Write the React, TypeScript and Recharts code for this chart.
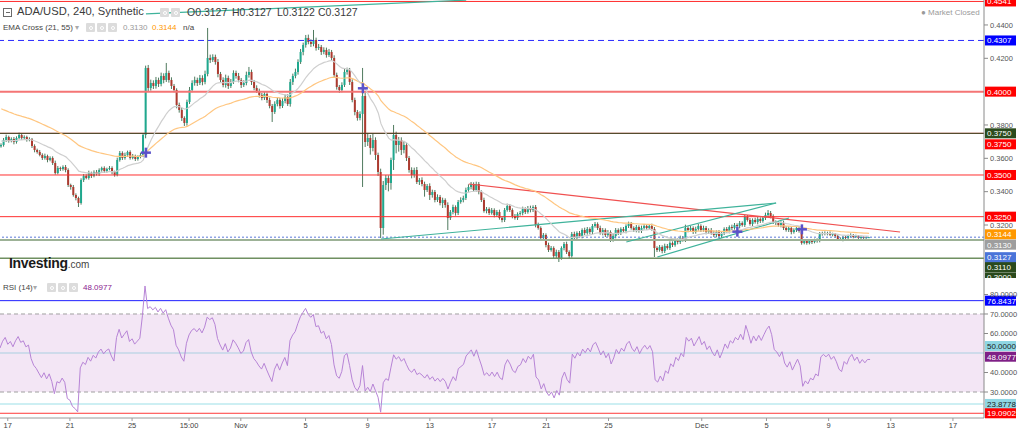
import React from 'react';
import { ComposedChart, Bar, Line, XAxis, YAxis, ReferenceLine, ReferenceArea } from 'recharts';

// 4h candle closes, in units of 0.0001 USD
const closes = [
  3680,3710,3728,3704,3716,3698,3722,3740,3722,3728,
  3710,3716,3674,3650,3638,3620,3602,3614,3590,3602,
  3572,3512,3542,3536,3548,3530,3440,3428,3380,3362,
  3332,3470,3494,3482,3512,3494,3518,3506,3530,3542,
  3524,3536,3542,3518,3500,3590,3632,3602,3620,3638,
  3602,3614,3596,3608,3620,3740,4142,4022,4052,4034,
  4070,4046,4094,4070,4112,4070,4034,4010,3920,3890,
  3842,3812,3938,4010,4052,4070,4052,4082,4058,4106,
  4202,4190,4208,4178,4106,4070,4040,4082,4034,4058,
  4112,4094,4070,4040,4052,4100,4118,4058,4022,4004,
  3980,3962,3986,3950,3914,3878,3926,3950,3914,3944,
  3968,3926,4058,4094,4118,4178,4238,4280,4322,4298,
  4286,4310,4262,4268,4238,4250,4220,4238,4202,4100,
  4028,4010,4040,4118,4130,4058,3950,3878,3842,3866,
  3974,3698,3722,3662,3710,3620,3518,3182,3440,3482,
  3452,3590,3740,3680,3710,3650,3680,3602,3530,3500,
  3530,3458,3470,3446,3410,3434,3380,3398,3350,3368,
  3332,3350,3320,3242,3278,3308,3272,3338,3350,3362,
  3410,3428,3446,3410,3446,3398,3350,3284,3296,3272,
  3290,3260,3278,3242,3230,3290,3314,3290,3254,3242,
  3266,3272,3296,3278,3302,3290,3308,3200,3182,3122,
  3140,3080,3050,3062,3014,3038,3002,3062,3086,3038,
  3014,3146,3122,3152,3134,3170,3152,3176,3158,3194,
  3206,3182,3152,3170,3140,3158,3110,3134,3170,3152,
  3176,3164,3194,3206,3182,3170,3188,3164,3182,3194,
  3182,3194,3176,3062,3050,3068,3044,3074,3062,3092,
  3080,3110,3098,3122,3110,3182,3170,3182,3158,3176,
  3194,3170,3182,3158,3170,3152,3140,3158,3134,3152,
  3176,3164,3188,3182,3200,3194,3212,3200,3248,3230,
  3206,3230,3218,3236,3224,3242,3260,3272,3254,3218,
  3212,3200,3212,3182,3170,3182,3158,3170,3182,3164,
  3092,3104,3092,3104,3098,3110,3104,3146,3152,3146,
  3152,3140,3146,3134,3116,3110,3128,3122,3134,3140,
  3128,3134,3122,3128,3122,3127,3127,
];
const firstOpen = 3672;

// upper / lower wick lengths, in units of 0.0001 USD
const upperWicks = [
  10,12,14,8,10,12,10,14,8,10,
  8,10,6,10,8,12,10,14,8,10,
  10,14,12,8,10,12,10,8,12,10,
  8,10,12,10,14,8,10,12,10,8,
  10,8,12,10,8,14,12,10,14,8,
  10,12,8,10,14,10,14,18,20,16,
  18,14,20,16,60,14,16,12,10,14,
  12,10,14,18,16,20,14,18,16,20,
  180,20,16,14,18,12,16,20,14,18,
  16,14,18,12,16,20,30,14,12,16,
  14,12,16,10,14,12,16,14,12,16,
  12,16,18,14,20,16,18,14,18,20,
  16,60,14,18,12,16,14,18,12,16,
  14,12,16,18,14,12,16,14,12,16,
  168,20,30,18,40,16,14,20,24,18,
  16,14,60,20,18,16,24,14,12,16,
  14,18,12,16,14,12,16,14,12,16,
  12,14,10,16,12,14,10,12,16,14,
  14,16,12,10,14,12,10,14,12,10,
  12,10,12,14,10,12,14,12,10,12,
  10,12,14,10,12,14,10,12,14,10,
  12,10,14,12,10,14,12,10,12,14,
  10,12,14,10,12,10,14,12,10,12,
  12,10,14,12,10,12,10,14,12,10,
  10,12,10,14,12,10,12,10,14,12,
  12,10,14,12,10,12,10,14,12,10,
  10,12,10,14,12,20,10,12,10,14,
  12,10,14,12,10,12,14,10,12,10,
  10,12,10,14,12,10,12,10,14,12,
  12,10,14,12,10,12,14,18,12,10,
  10,12,10,14,12,10,12,10,14,12,
  12,8,10,8,10,8,10,12,8,10,
  8,10,8,6,8,10,8,6,8,10,
  6,8,6,8,6,5,0,
];
const lowerWicks = [
  8,10,12,10,8,14,10,8,12,10,
  10,8,12,14,10,8,12,10,14,8,
  12,10,8,12,10,14,12,16,10,14,
  24,10,12,8,10,12,8,10,12,10,
  12,10,8,14,10,8,10,12,10,12,
  10,8,12,10,8,12,20,24,16,18,
  16,18,14,20,12,16,18,14,20,16,
  18,18,16,12,14,16,18,12,20,14,
  14,18,12,16,20,18,14,16,18,12,
  12,16,14,18,12,14,16,18,14,12,
  16,14,12,18,14,60,12,14,16,12,
  14,12,16,18,14,16,12,20,16,14,
  18,14,16,12,18,14,16,12,14,18,
  16,18,14,12,16,18,14,20,16,14,
  438,30,24,40,20,30,24,60,40,30,
  50,40,60,50,40,30,20,18,16,20,
  16,12,18,14,40,12,30,16,14,12,
  14,30,16,72,12,14,16,12,10,14,
  12,10,14,12,10,14,12,10,14,12,
  10,14,12,10,14,12,10,12,14,10,
  12,10,14,12,10,14,12,14,10,12,
  10,14,12,10,14,12,24,10,14,12,
  12,10,14,12,10,14,12,10,14,12,
  10,12,10,14,12,10,12,10,14,12,
  12,10,14,12,10,12,14,10,12,10,
  10,12,10,54,12,10,14,12,10,12,
  12,10,14,12,10,12,14,10,12,10,
  10,12,10,14,12,10,12,14,10,12,
  12,10,14,12,10,12,14,10,12,10,
  10,12,10,14,12,10,12,10,14,12,
  12,10,14,12,10,12,14,10,12,10,
  10,8,10,8,12,8,10,8,10,8,
  8,6,8,10,8,6,8,10,6,8,
  8,6,8,6,8,5,5,
];

const slotCount = 381;
const ema21Seed = 0.3705;
const ema55Seed = 0.3905;
const rsiGainSeed = 0.0016;
const rsiLossSeed = 0.0015;

const crossIdx = [56, 140, 285, 310];
const crossPrice = [0.3634, 0.402, 0.316, 0.3174];

const tickIdx = [3, 27, 51, 73, 93, 118, 142, 166, 190, 211, 235, 271, 296, 320, 344, 368];
const tickLabels = ['17', '21', '25', '15:00', 'Nov', '5', '9', '13', '17', '21', '25', 'Dec', '5', '9', '13', '17'];

const priceDomain = [0.28821, 0.45497];
const priceTicks = [0.32, 0.34, 0.36, 0.38, 0.42, 0.44];
const rsiDomain = [16.67, 88.46];
const rsiTicks = [30, 40, 60, 70, 80];

const redLevels = [0.4541, 0.4, 0.375, 0.35, 0.325];
const greenLevels = [0.375, 0.311, 0.3];
const dashedLevel = 0.4307;
const lastPrice = 0.3127;
const ema21Last = 0.313;
const ema55Last = 0.3144;
const rsiLevels = [76.8437, 50, 48.0977, 23.8778, 19.0902];

const redTrend = [{ x: 181, y: 0.3446 }, { x: 348, y: 0.3158 }];
const tealTrends = [
  [{ x: 147, y: 0.3116 }, { x: 300, y: 0.3332 }],
  [{ x: 242, y: 0.3098 }, { x: 300, y: 0.3332 }],
  [{ x: 254, y: 0.3008 }, { x: 305, y: 0.3242 }],
  [{ x: 56, y: 0.4466 }, { x: 180, y: 0.4549 }],
];

type Row = {
  i: number;
  open?: number; high?: number; low?: number; close?: number;
  ema21?: number; ema55?: number; rsi?: number; cross?: number | null;
};

const data: Row[] = [];
{
  let prev = firstOpen / 1e4;
  let e21 = ema21Seed, e55 = ema55Seed, ag = rsiGainSeed, al = rsiLossSeed;
  for (let i = 0; i < slotCount; i++) {
    if (i < closes.length) {
      const c = closes[i] / 1e4;
      const o = prev;
      const hi = Math.max(o, c) + (upperWicks[i] ?? 0) / 1e4;
      const lo = Math.min(o, c) - (lowerWicks[i] ?? 0) / 1e4;
      e21 = e21 + (c - e21) * (2 / 22);
      e55 = e55 + (c - e55) * (2 / 56);
      const ch = c - o;
      ag = (ag * 13 + Math.max(ch, 0)) / 14;
      al = (al * 13 + Math.max(-ch, 0)) / 14;
      const rsi = al === 0 ? 100 : 100 - 100 / (1 + ag / al);
      const ci = crossIdx.indexOf(i);
      data.push({ i, open: o, high: hi, low: lo, close: c, ema21: e21, ema55: e55, rsi, cross: ci >= 0 ? crossPrice[ci] : null });
      prev = c;
    } else {
      data.push({ i, cross: null });
    }
  }
}

const AXIS_FONT = "'Liberation Sans', Arial, sans-serif";

function Candle(props: any) {
  const { x, y, width, height, payload } = props;
  if (!payload || payload.high == null || !isFinite(y) || !isFinite(height)) return <g />;
  const top = Math.min(y, y + height);
  const h = Math.abs(height);
  const range = payload.high - payload.low;
  const k = range > 0 ? h / range : 0;
  const yO = top + (payload.high - payload.open) * k;
  const yC = top + (payload.high - payload.close) * k;
  const up = payload.close >= payload.open;
  const cx = x + width / 2;
  const bTop = Math.min(yO, yC);
  const bH = Math.max(1, Math.abs(yO - yC));
  return (
    <g>
      <line x1={cx} x2={cx} y1={top} y2={top + h} stroke="#4f7a5e" strokeWidth={1} />
      <rect x={x} y={bTop} width={width} height={bH} fill={up ? '#1fa88e' : '#ad3a2f'} />
    </g>
  );
}

function CrossDot(props: any) {
  const { cx, cy, payload, index } = props;
  if (!payload || payload.cross == null || cy == null || !isFinite(cy)) return <g key={`cd${index}`} />;
  return (
    <g key={`cd${index}`}>
      <line x1={cx - 5} x2={cx + 5} y1={cy} y2={cy} stroke="#5b52c9" strokeWidth={2.5} />
      <line x1={cx} x2={cx} y1={cy - 5} y2={cy + 5} stroke="#5b52c9" strokeWidth={2.5} />
    </g>
  );
}

function Tag(props: any) {
  const { viewBox, text, bg, fg = '#fff', dy = 0 } = props;
  if (!viewBox) return null;
  const x = viewBox.x + viewBox.width + 1;
  const y = viewBox.y + dy;
  return (
    <g>
      <rect x={x} y={y - 5} width={31} height={10} fill={bg} />
      <text x={x + 2} y={y + 3} fontSize={8} fill={fg} fontFamily={AXIS_FONT}>{text}</text>
    </g>
  );
}

const iconBox = (left: number, top: number) => (
  <div style={{ position: 'absolute', left, top, width: 9, height: 9, background: '#dcdcdc', borderRadius: 1 }}>
    <div style={{ position: 'absolute', left: 2.5, top: 2.5, width: 4, height: 4, border: '1px solid #fff', borderRadius: 3, boxSizing: 'border-box' }} />
  </div>
);

const txt = (left: number, top: number, s: string, size: number, color: string, extra: React.CSSProperties = {}) => (
  <div style={{ position: 'absolute', left, top, fontSize: size, color, whiteSpace: 'nowrap', lineHeight: 1, fontFamily: AXIS_FONT, ...extra }}>{s}</div>
);

export default function App() {
  const xFmt = (v: any) => {
    const k = tickIdx.indexOf(Number(v));
    return k >= 0 ? tickLabels[k] : '';
  };
  return (
    <div style={{ position: 'absolute', left: 0, top: 0, width: 1024, height: 433, background: '#fff', overflow: 'hidden' }}>
      <div style={{ position: 'absolute', left: 0, top: 0 }}>
        <ComposedChart width={1024} height={278} data={data} margin={{ top: 0, right: 0, bottom: 0, left: 0 }}>
          <XAxis dataKey="i" hide />
          <YAxis
            orientation="right"
            width={40}
            domain={priceDomain}
            allowDataOverflow
            ticks={priceTicks}
            interval={0}
            tickFormatter={(v: number) => v.toFixed(4)}
            tick={{ fontSize: 7.5, fill: '#555', fontFamily: AXIS_FONT }}
            tickSize={4}
            axisLine={{ stroke: '#8a8a8a' }}
            tickLine={{ stroke: '#8a8a8a' }}
          />
          <ReferenceLine y={redLevels[0]} stroke="#ff2a2a" strokeWidth={1} label={<Tag text="0.4541" bg="#ff0000" />} />
          <ReferenceLine y={dashedLevel} stroke="#2b2bff" strokeDasharray="6 4" label={<Tag text="0.4307" bg="#0000ff" />} />
          <ReferenceLine y={redLevels[1]} stroke="#f47575" strokeWidth={2} label={<Tag text="0.4000" bg="#ff0000" />} />
          <ReferenceLine y={redLevels[2]} stroke="#ff3030" strokeWidth={1} label={<Tag text="0.3750" bg="#ff0000" dy={11} />} />
          <ReferenceLine y={greenLevels[0]} stroke="#2f4a24" strokeWidth={1} label={<Tag text="0.3750" bg="#2a4a1c" />} />
          <ReferenceLine y={redLevels[3]} stroke="#ff3030" strokeWidth={1} label={<Tag text="0.3500" bg="#ff0000" />} />
          <ReferenceLine y={redLevels[4]} stroke="#ff3030" strokeWidth={1} label={<Tag text="0.3250" bg="#ff0000" />} />
          <ReferenceLine y={greenLevels[1]} stroke="#9db297" strokeWidth={2} label={<Tag text="0.3110" bg="#2a4a1c" dy={27} />} />
          <ReferenceLine y={greenLevels[2]} stroke="#6f8f60" strokeWidth={1.5} label={<Tag text="0.3000" bg="#2a4a1c" dy={19} />} />
          <ReferenceLine y={lastPrice} stroke="#5a78d8" strokeDasharray="2 2" label={<Tag text="0.3127" bg="#4a74d9" dy={20} />} />
          <ReferenceLine y={ema55Last} stroke="none" label={<Tag text="0.3144" bg="#ff9800" />} />
          <ReferenceLine y={ema21Last} stroke="none" label={<Tag text="0.3130" bg="#9e9e9e" dy={8} />} />
          <ReferenceLine segment={redTrend} stroke="#f05050" strokeWidth={1.2} ifOverflow="hidden" />
          {tealTrends.map((s, k) => (
            <ReferenceLine key={`t${k}`} segment={s} stroke="#3fb39b" strokeWidth={1.2} ifOverflow="hidden" />
          ))}
          <Line dataKey="ema55" stroke="#ffc680" strokeWidth={1.2} dot={false} activeDot={false} isAnimationActive={false} />
          <Line dataKey="ema21" stroke="#cfcfcf" strokeWidth={1.2} dot={false} activeDot={false} isAnimationActive={false} />
          <Bar
            dataKey={(d: Row) => (d.high == null ? null : [d.low, d.high])}
            barSize={2}
            shape={Candle}
            isAnimationActive={false}
          />
          <Line dataKey="cross" stroke="none" dot={CrossDot} activeDot={false} isAnimationActive={false} />
        </ComposedChart>
      </div>

      <div style={{ position: 'absolute', left: 0, top: 277.5, width: 984, height: 1, background: '#8a8a8a' }} />

      <div style={{ position: 'absolute', left: 0, top: 278, background: '#fff' }}>
        <ComposedChart width={1024} height={155} data={data} margin={{ top: 0, right: 0, bottom: 0, left: 0 }}>
          <XAxis
            dataKey="i"
            ticks={tickIdx}
            interval={0}
            tickFormatter={xFmt}
            tick={{ fontSize: 7.5, fill: '#444', fontFamily: AXIS_FONT }}
            tickSize={3}
            height={15}
            axisLine={{ stroke: '#9a9a9a' }}
            tickLine={{ stroke: '#9a9a9a' }}
          />
          <YAxis
            orientation="right"
            width={40}
            domain={rsiDomain}
            allowDataOverflow
            ticks={rsiTicks}
            interval={0}
            tickFormatter={(v: number) => v.toFixed(4)}
            tick={{ fontSize: 7.5, fill: '#555', fontFamily: AXIS_FONT }}
            tickSize={4}
            axisLine={{ stroke: '#8a8a8a' }}
            tickLine={{ stroke: '#8a8a8a' }}
          />
          <ReferenceArea y1={30} y2={70} fill="#f3e6f5" fillOpacity={1} stroke="none" />
          <ReferenceLine y={70} stroke="#a0a0a0" strokeDasharray="4 3" />
          <ReferenceLine y={30} stroke="#a0a0a0" strokeDasharray="4 3" />
          <ReferenceLine y={rsiLevels[0]} stroke="#2020ff" strokeWidth={1} label={<Tag text="76.8437" bg="#0000ff" />} />
          <ReferenceLine y={rsiLevels[1]} stroke="#a9cfe0" strokeWidth={1} label={<Tag text="50.0000" bg="#8fd6e3" fg="#1a1a1a" dy={-7} />} />
          <ReferenceLine y={rsiLevels[2]} stroke="none" label={<Tag text="48.0977" bg="#7f1f86" />} />
          <ReferenceLine y={rsiLevels[3]} stroke="#cdeff3" strokeWidth={2} label={<Tag text="23.8778" bg="#8fd6e3" fg="#1a1a1a" />} />
          <ReferenceLine y={rsiLevels[4]} stroke="#ff3a3a" strokeWidth={1} label={<Tag text="19.0902" bg="#ff0000" />} />
          <Line dataKey="rsi" stroke="#b784d6" strokeWidth={1} dot={false} activeDot={false} isAnimationActive={false} />
        </ComposedChart>
      </div>

      {/* header row 1 */}
      <div style={{ position: 'absolute', left: 3, top: 8, width: 9, height: 9, border: '1px solid #6a6a6a', boxSizing: 'border-box', background: '#fff' }}>
        <div style={{ position: 'absolute', left: 1.5, top: 3, width: 4, height: 1, background: '#6a6a6a' }} />
      </div>
      {txt(17, 6, 'ADA/USD, 240, Synthetic', 11.2, '#3a3a3a')}
      {iconBox(160, 8)}
      {iconBox(171, 8)}
      {txt(187, 7, 'O0.3127', 10.5, '#3a3a3a')}
      {txt(232, 7, 'H0.3127', 10.5, '#3a3a3a')}
      {txt(277, 7, 'L0.3122', 10.5, '#3a3a3a')}
      {txt(318, 7, 'C0.3127', 10.5, '#3a3a3a')}

      {/* header row 2 */}
      {txt(3, 24, 'EMA Cross (21, 55)', 8, '#444')}
      {txt(75, 24, '▾', 8, '#aaa')}
      {iconBox(86, 23)}
      {iconBox(97, 23)}
      {iconBox(108, 23)}
      {txt(123, 24, '0.3130', 8, '#9a9a9a')}
      {txt(152, 24, '0.3144', 8, '#ff9800')}
      {txt(183, 24, 'n/a', 8, '#444')}

      {txt(921, 9, '● Market Closed', 8, '#9a9a9a')}

      {/* logo */}
      <div style={{ position: 'absolute', left: 9, top: 255, whiteSpace: 'nowrap', lineHeight: 1, fontFamily: AXIS_FONT }}>
        <span style={{ fontSize: 14, fontWeight: 700, color: '#1a1a1a', letterSpacing: -0.3 }}>Investing</span>
        <span style={{ fontSize: 10, color: '#444' }}>.com</span>
      </div>

      {/* RSI legend */}
      {txt(3, 284, 'RSI (14)', 8, '#444')}
      {txt(33, 284, '▾', 8, '#aaa')}
      {iconBox(47, 283)}
      {iconBox(58, 283)}
      {iconBox(69, 283)}
      {txt(83, 284, '48.0977', 8, '#8a1a8f')}
    </div>
  );
}
